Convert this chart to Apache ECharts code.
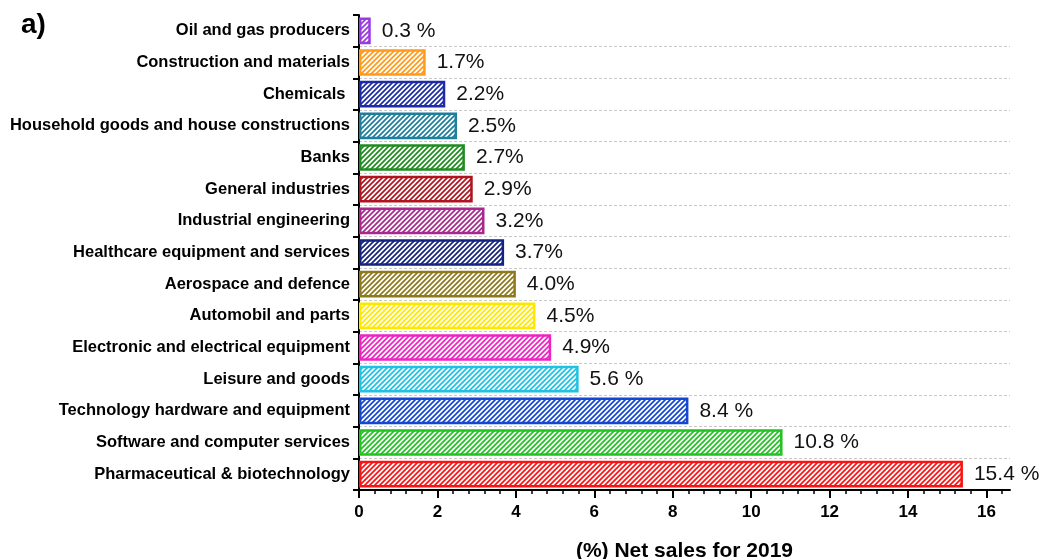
<!DOCTYPE html>
<html>
<head>
<meta charset="utf-8">
<script src="https://cdn.jsdelivr.net/npm/echarts@6/dist/echarts.min.js"></script>
<style>
html,body{margin:0;padding:0;background:#fff;}
#c{width:1045px;height:559px;}
</style>
</head>
<body>
<div id="c"></div>
<script>
// ---- data ----
const categories = [
  "Oil and gas producers",
  "Construction and materials",
  "Chemicals ",
  "Household goods and house constructions",
  "Banks",
  "General industries",
  "Industrial engineering",
  "Healthcare equipment and services",
  "Aerospace and defence",
  "Automobil and parts",
  "Electronic and electrical equipment",
  "Leisure and goods",
  "Technology hardware and equipment",
  "Software and computer services",
  "Pharmaceutical & biotechnology"
];
const values = [0.3, 1.7, 2.2, 2.5, 2.7, 2.9, 3.2, 3.7, 4.0, 4.5, 4.9, 5.6, 8.4, 10.8, 15.4];
const valueLabels = ["0.3 %", "1.7%", "2.2%", "2.5%", "2.7%", "2.9%", "3.2%", "3.7%", "4.0%", "4.5%", "4.9%", "5.6 %", "8.4 %", "10.8 %", "15.4 %"];
const xTickLabels = [0, 2, 4, 6, 8, 10, 12, 14, 16];
const xMinorTicks = [0.4,0.8,1.2,1.6, 2.4,2.8,3.2,3.6, 4.4,4.8,5.2,5.6, 6.4,6.8,7.2,7.6, 8.4,8.8,9.2,9.6,
  10.4,10.8,11.2,11.6, 12.4,12.8,13.2,13.6, 14.4,14.8,15.2,15.6, 16.4];
const barColors = ["#9B3AE0", "#FF9A1A", "#1C2BA6", "#1E7F9C", "#1E8C1E", "#B0141E", "#A8288E",
  "#14237E", "#8E7A1C", "#FFE800", "#EE22C4", "#1EC2E2", "#1448D2", "#22C222", "#F81414"];
const axisTitle = "(%) Net sales for 2019";
const panelLabel = "a)";

// ---- hatch pattern ----
function hatch(color) {
  const s = 5;
  const c = document.createElement('canvas');
  c.width = s; c.height = s;
  const g = c.getContext('2d');
  g.fillStyle = '#fff';
  g.fillRect(0, 0, s, s);
  g.strokeStyle = color;
  g.lineWidth = 1.7;
  g.beginPath();
  g.moveTo(-1, s + 1); g.lineTo(s + 1, -1);
  g.moveTo(-1 - s, s + 1); g.lineTo(1, -1);
  g.moveTo(s - 1, s + 1); g.lineTo(s + s + 1, -1);
  g.stroke();
  return { image: c, repeat: 'repeat' };
}

const data = values.map((v, i) => ({
  value: v,
  itemStyle: { color: hatch(barColors[i]), borderColor: barColors[i], borderWidth: 2.5, opacity: 1 }
}));

const font = '"Liberation Sans", Arial, sans-serif';
const chart = echarts.init(document.getElementById('c'), null, { renderer: 'canvas' });
chart.setOption({
  animation: false,
  backgroundColor: '#fff',
  grid: { left: 359, right: 35, top: 15, bottom: 69, containLabel: false, outerBoundsMode: 'none' },
  graphic: [{
    type: 'text', left: 21, top: 11,
    style: { text: panelLabel, font: 'bold 28px ' + font, fill: '#000' }
  }],
  xAxis: [{
    type: 'value', min: 0, max: 16.6,
    name: axisTitle, nameLocation: 'middle', nameGap: 51,
    nameTextStyle: { fontFamily: font, fontWeight: 'bold', fontSize: 21, color: '#000' },
    axisLine: { show: true, lineStyle: { color: '#000', width: 2 } },
    axisTick: { show: true, length: 8, lineStyle: { color: '#000', width: 2 }, customValues: xTickLabels },
    axisLabel: { customValues: xTickLabels, fontFamily: font, fontWeight: 'bold', fontSize: 17, color: '#000', margin: 14 },
    splitLine: { show: false }
  }, {
    type: 'value', min: 0, max: 16.6, position: 'bottom',
    axisLine: { show: false },
    axisTick: { show: true, length: 4, lineStyle: { color: '#000', width: 1.5 }, customValues: xMinorTicks },
    axisLabel: { show: false },
    splitLine: { show: false }
  }],
  yAxis: {
    type: 'category', data: categories, inverse: true,
    axisLine: { show: true, lineStyle: { color: '#000', width: 2 } },
    axisTick: { show: true, length: 6, lineStyle: { color: '#000', width: 2 } },
    axisLabel: { fontFamily: font, fontWeight: 'bold', fontSize: 16.5, color: '#000', margin: 9 },
    splitLine: { show: true, interval: (i) => i !== 0, lineStyle: { color: '#c8c8c8', type: [3, 2], width: 1 } }
  },
  series: [{
    type: 'bar', data: data, barWidth: '84%',
    label: {
      show: true, position: 'right', distance: 11,
      fontFamily: font, fontSize: 21, color: '#111',
      formatter: p => valueLabels[p.dataIndex]
    }
  }]
});
</script>
</body>
</html>
